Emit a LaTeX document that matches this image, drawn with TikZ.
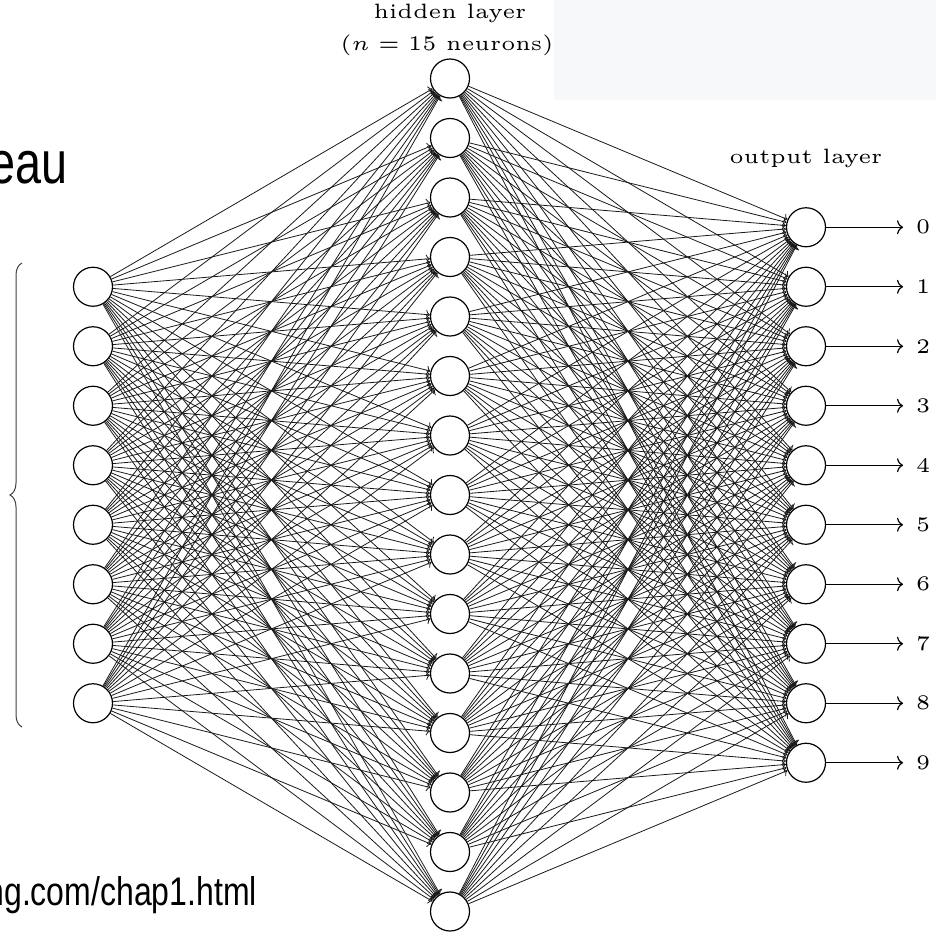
\documentclass[tikz,border=0pt]{standalone}
\usepackage{fontspec}
\newfontfamily\slidefont{Liberation Sans}
\usetikzlibrary{arrows.meta,decorations.pathreplacing}
\definecolor{panelgray}{RGB}{247,248,250}
\newcommand{\cmlab}[1]{\scalebox{4.15}{\fontsize{5}{6}\selectfont #1}}
\begin{document}
\begin{tikzpicture}[x=1pt,y=-1pt,
  neuron/.style={circle,draw,line width=1.2pt,minimum size=39pt,inner sep=0pt,fill=white},
  conn/.style={line width=0.8pt,black!90,-{To[length=4pt,width=9pt]}},
  outarrow/.style={line width=1.2pt,-{To[length=6pt,width=14pt]}},
  lab/.style={inner sep=0pt},
  bracestyle/.style={line width=1pt,black!75,decorate,decoration={brace,amplitude=12pt}}]
\useasboundingbox (0,0) rectangle (936,932);
\clip (0,0) rectangle (936,932);
\fill[panelgray] (554,0) rectangle (936,100);
% neurons
\foreach \i in {1,...,8}
  \node[neuron] (in\i) at (93,{286.75+59.5*(\i-1)}) {};
\foreach \j in {1,...,15}
  \node[neuron] (hid\j) at (450,{78.5+59.5*(\j-1)}) {};
\foreach \k in {0,...,9}
  \node[neuron] (out\k) at (806,{227.25+59.5*\k}) {};
% connections
\foreach \i in {1,...,8}
  \foreach \j in {1,...,15}
    \draw[conn] (in\i) -- (hid\j);
\foreach \j in {1,...,15}
  \foreach \k in {0,...,9}
    \draw[conn] (hid\j) -- (out\k);
% outputs
\foreach \k in {0,...,9} {
  \coordinate (tip\k) at (903,{227.25+59.5*\k});
  \draw[outarrow] (out\k) -- (tip\k);
  \node[lab,anchor=west] (dig\k) at (916,{227.25+59.5*\k}) {\cmlab{\k}};
}
% labels
\node[lab,anchor=base] (hl) at (450,18.5) {\cmlab{hidden layer}};
\node[lab,anchor=base] (hn) at (447,50) {\cmlab{($n=15$ neurons)}};
\node[lab,anchor=base] (ol) at (806,163) {\cmlab{output layer}};
% brace
\coordinate (bbot) at (22,727);
\coordinate (btop) at (22,263);
\draw[bracestyle] (bbot) -- (btop);
% slide text fragments
\node[lab,anchor=base east] (eau) at (68,183) {\scalebox{0.78}[1]{\slidefont\fontsize{60}{72}\selectfont eau}};
\node[lab,anchor=base east] (url) at (257,905) {\scalebox{0.8}[1]{\slidefont\fontsize{40}{48}\selectfont ng.com/chap1.html}};
\end{tikzpicture}
\end{document}
